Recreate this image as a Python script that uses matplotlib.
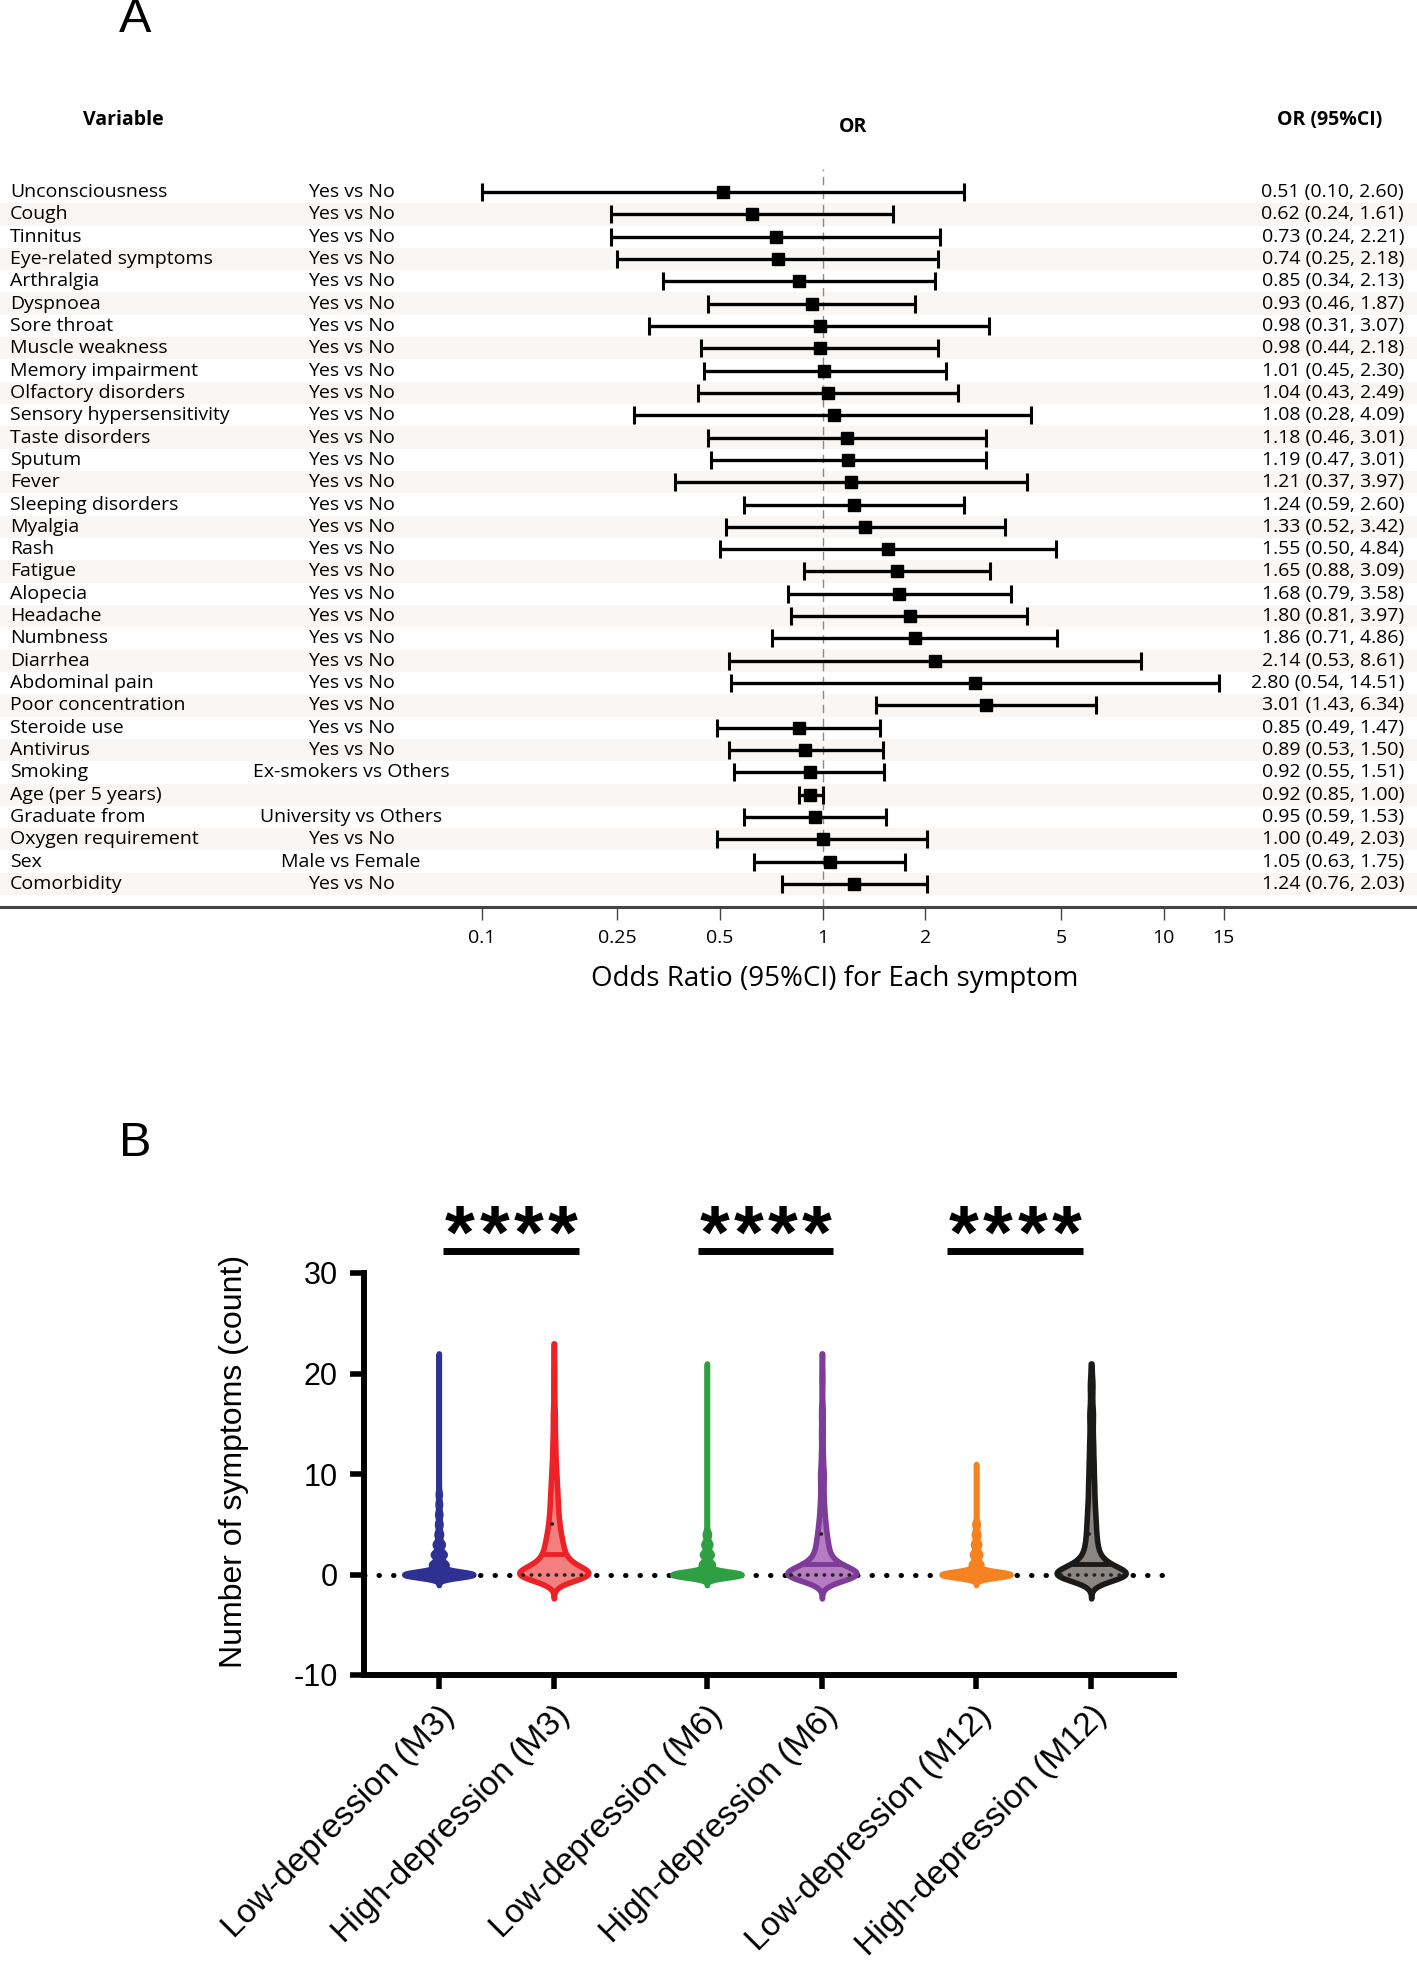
import numpy as np
import matplotlib
matplotlib.use("Agg")
import matplotlib.pyplot as plt

# ---------------- panel A data (forest plot) ----------------
variables = ["Unconsciousness", "Cough", "Tinnitus", "Eye-related symptoms", "Arthralgia",
             "Dyspnoea", "Sore throat", "Muscle weakness", "Memory impairment",
             "Olfactory disorders", "Sensory hypersensitivity", "Taste disorders", "Sputum",
             "Fever", "Sleeping disorders", "Myalgia", "Rash", "Fatigue", "Alopecia",
             "Headache", "Numbness", "Diarrhea", "Abdominal pain", "Poor concentration",
             "Steroide use", "Antivirus", "Smoking", "Age (per 5 years)", "Graduate from",
             "Oxygen requirement", "Sex", "Comorbidity"]
comparisons = ["Yes vs No"] * 26 + ["Ex-smokers vs Others", "", "University vs Others",
                                     "Yes vs No", "Male vs Female", "Yes vs No"]
odds = [0.51, 0.62, 0.73, 0.74, 0.85, 0.93, 0.98, 0.98, 1.01, 1.04, 1.08, 1.18, 1.19, 1.21,
        1.24, 1.33, 1.55, 1.65, 1.68, 1.80, 1.86, 2.14, 2.80, 3.01, 0.85, 0.89, 0.92, 0.92,
        0.95, 1.00, 1.05, 1.24]
ci_low = [0.10, 0.24, 0.24, 0.25, 0.34, 0.46, 0.31, 0.44, 0.45, 0.43, 0.28, 0.46, 0.47, 0.37,
          0.59, 0.52, 0.50, 0.88, 0.79, 0.81, 0.71, 0.53, 0.54, 1.43, 0.49, 0.53, 0.55, 0.85,
          0.59, 0.49, 0.63, 0.76]
ci_high = [2.60, 1.61, 2.21, 2.18, 2.13, 1.87, 3.07, 2.18, 2.30, 2.49, 4.09, 3.01, 3.01, 3.97,
           2.60, 3.42, 4.84, 3.09, 3.58, 3.97, 4.86, 8.61, 14.51, 6.34, 1.47, 1.50, 1.51, 1.00,
           1.53, 2.03, 1.75, 2.03]
or_ticks = [0.1, 0.25, 0.5, 1, 2, 5, 10, 15]
or_ticklabels = ["0.1", "0.25", "0.5", "1", "2", "5", "10", "15"]

# ---------------- panel B data (violins) ----------------
groups = ["Low-depression (M3)", "High-depression (M3)", "Low-depression (M6)",
          "High-depression (M6)", "Low-depression (M12)", "High-depression (M12)"]
# number of patients with 0, 1, 2, ... symptoms (estimated from the shapes)
low_m3 = [1000, 220, 170, 115, 65, 50, 45, 36, 30, 3, 2, 2, 1, 1, 1, 1, 1, 1, 1, 1, 1, 1, 2]
high_m3 = [100, 36, 22, 18, 14, 11, 9, 8, 7, 6, 5, 4, 3, 3, 2, 2, 2, 1, 1, 1, 1, 1, 0, 1]
low_m6 = [1000, 170, 140, 100, 60, 2, 2, 1, 1, 1, 1, 1, 1, 1, 1, 1, 1, 1, 1, 1, 1, 2]
high_m6 = [100, 30, 15, 12, 9, 7, 5, 4, 3, 3, 4, 2, 2, 1, 2, 1, 2, 1, 0, 1, 1, 0, 1]
low_m12 = [1000, 150, 120, 90, 65, 50, 3, 2, 2, 2, 2, 2]
high_m12 = [100, 32, 16, 12, 10, 9, 8, 7, 6, 6, 5, 5, 4, 4, 3, 3, 4, 2, 2, 3, 1, 1]
group_counts = [low_m3, high_m3, low_m6, high_m6, low_m12, high_m12]
q1_vals = [0, 0, 0, 0, 0, 0]
medians = [0, 2, 0, 1, 0, 1]
q3_vals = [0, 5, 0, 4, 0, 4]
sig_pairs = [(0.04, 1.22), (2.25, 3.43), (4.42, 5.60)]
sig_text = ["****", "****", "****"]

positions = [0, 1, 2.33, 3.33, 4.67, 5.67]
edge_colors = ["#2e3192", "#ec2227", "#2ea043", "#7d3c98", "#f58220", "#1c1a19"]
fill_colors = ["#2e3192", "#f3807f", "#2ea043", "#b57cc2", "#f58220", "#8c8682"]
bandwidths = [0.3, 0.68, 0.3, 0.68, 0.3, 0.68]

W, H = 1417, 1961
fig = plt.figure(figsize=(W / 100, H / 100), dpi=100)

# ================= panel A =================
fontA = "Open Sans"
fsA = 14
axA = fig.add_axes([0, 1 - 907 / H, 1, (907 - 169) / H])
axA.set_xscale("log")
axA.set_xlim(10 ** (-822.6 / 341), 10 ** ((W - 822.6) / 341))
rows = np.arange(len(variables))
axA.set_ylim(len(variables) - 1 + 23 / 22.3, -23 / 22.3)

for i in rows:
    if i % 2 == 1:
        axA.axhspan(i - 0.5, i + 0.5, color="#faf6f3", lw=0, zorder=0)

axA.axvline(1, color="#8a8a8a", lw=1.0, ls=(0, (6, 4)), zorder=1)
odds_a = np.array(odds)
xerr = [odds_a - np.array(ci_low), np.array(ci_high) - odds_a]
axA.errorbar(odds_a, rows, xerr=xerr, fmt="s", color="black", ms=9, capsize=6.5,
             elinewidth=2.4, capthick=2.2, zorder=3)

for s in ["top", "right", "left"]:
    axA.spines[s].set_visible(False)
axA.spines["bottom"].set_color("#444444")
axA.spines["bottom"].set_linewidth(2.2)
axA.set_yticks([])
axA.set_xticks(or_ticks)
axA.set_xticklabels(or_ticklabels, fontsize=fsA, family=fontA)
axA.xaxis.set_minor_locator(plt.NullLocator())
axA.tick_params(axis="x", length=9, width=1, color="#444444", pad=7)

tr = axA.get_yaxis_transform()
for i in rows:
    axA.text(10 / W, i, variables[i], transform=tr, ha="left", va="center",
             fontsize=fsA, family=fontA)
    axA.text(351 / W, i, comparisons[i], transform=tr, ha="center", va="center",
             fontsize=fsA, family=fontA)
    axA.text(1404 / W, i, f"{odds[i]:.2f} ({ci_low[i]:.2f}, {ci_high[i]:.2f})",
             transform=tr, ha="right", va="center", fontsize=fsA, family=fontA)

fig.text(123 / W, 1 - 120 / H, "Variable", ha="center", va="center", fontsize=fsA,
         fontweight="bold", family=fontA)
fig.text(853 / W, 1 - 127 / H, "OR", ha="center", va="center", fontsize=fsA,
         fontweight="bold", family=fontA)
fig.text(1330 / W, 1 - 120 / H, "OR (95%CI)", ha="center", va="center", fontsize=fsA,
         fontweight="bold", family=fontA)
fig.text(835 / W, 1 - 979 / H, "Odds Ratio (95%CI) for Each symptom", ha="center",
         va="center", fontsize=20, family=fontA)
fig.text(135 / W, 1 - 19 / H, "A", ha="center", va="center", fontsize=35,
         family="Liberation Sans")

# ================= panel B =================
fontB = "Liberation Sans"
axB = fig.add_axes([364 / W, 1 - 1675 / H, 810 / W, 402 / H])
axB.set_xlim(-0.65, 6.39)
axB.set_ylim(-10, 30)
for s in ["top", "right"]:
    axB.spines[s].set_visible(False)
for s in ["left", "bottom"]:
    axB.spines[s].set_linewidth(4.3)
    axB.spines[s].set_color("black")

axB.axhline(0, color="black", lw=3.6, ls=(0, (0.1, 2.8)), dash_capstyle="round", zorder=2)


def kde(counts, h, grid):
    k = np.arange(len(counts))
    c = np.array(counts, dtype=float)
    return (c[None, :] * np.exp(-(grid[:, None] - k[None, :]) ** 2 / (2 * h * h))).sum(1)


for i, counts in enumerate(group_counts):
    h = bandwidths[i]
    c = positions[i]
    grid = np.linspace(-3.5 * h, len(counts) - 1, 800)
    d = kde(counts, h, grid)
    w = 0.30 * d / d.max()
    axB.fill_betweenx(grid, c - w, c + w, facecolor=fill_colors[i],
                      edgecolor=edge_colors[i], lw=4.0, joinstyle="round", zorder=3)
    wm = np.interp(medians[i], grid, w)
    axB.plot([c - wm, c + wm], [medians[i]] * 2, color=edge_colors[i], lw=3.5,
             solid_capstyle="butt", zorder=4)
    if q3_vals[i] > q1_vals[i]:
        for q in (q1_vals[i], q3_vals[i]):
            wq = np.interp(q, grid, w)
            axB.plot([c - wq + 0.03, c + wq - 0.03], [q, q], color="#222222", lw=2.6,
                     ls=(0, (0.1, 2.2)), dash_capstyle="round", zorder=4)

# significance bars, one asterisk at a time so the spacing matches
for (x0, x1), t in zip(sig_pairs, sig_text):
    axB.plot([x0, x1], [32.2, 32.2], color="black", lw=5, solid_capstyle="butt",
             clip_on=False)
    xm = (x0 + x1) / 2
    for j, ch in enumerate(t):
        axB.text(xm + (j - (len(t) - 1) / 2) * 0.298, 31.5, ch, ha="center",
                 va="baseline", fontsize=55, fontweight="bold", family=fontB,
                 clip_on=False)

axB.set_yticks([-10, 0, 10, 20, 30])
axB.set_yticklabels(["-10", "0", "10", "20", "30"], fontsize=22, family=fontB)
axB.set_xticks(positions)
axB.set_xticklabels(groups, fontsize=24, family=fontB, rotation=45, ha="right",
                    rotation_mode="anchor")
axB.tick_params(axis="both", length=10, width=4, color="black")
axB.tick_params(axis="x", pad=8)
axB.tick_params(axis="y", pad=9)

fig.text(234 / W, 1 - 1461 / H, "Number of symptoms (count)", rotation=90, ha="center",
         va="center", fontsize=23, family=fontB)
fig.text(135 / W, 1 - 1144 / H, "B", ha="center", va="center", fontsize=35, family=fontB)

fig.savefig("out.png", dpi=100)
